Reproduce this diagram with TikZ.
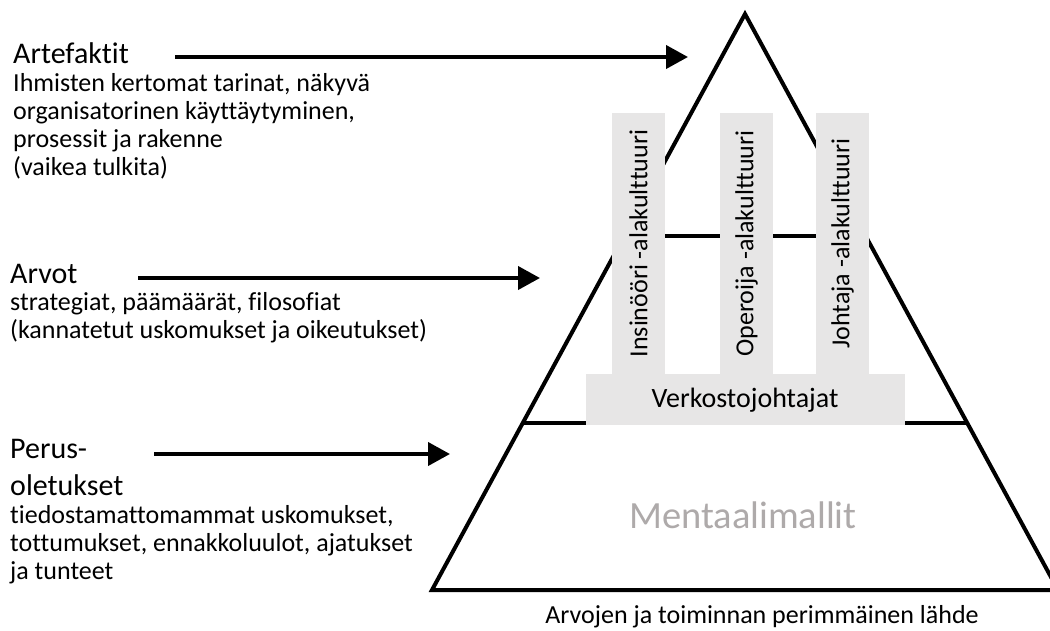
\documentclass[tikz,border=0pt]{standalone}
\usepackage{fontspec}
\setmainfont{Carlito}[RawFeature={-liga;-clig;-dlig;-calt}]
\usetikzlibrary{arrows.meta}
\definecolor{columngrey}{HTML}{E7E6E6}
\definecolor{mentalgrey}{HTML}{AEAAAA}
\begin{document}
\begin{tikzpicture}[x=1pt,y=-1pt,
  heading/.style={anchor=base west, inner sep=0pt, font=\fontsize{30}{36}\selectfont},
  bodyline/.style={anchor=base west, inner sep=0pt, font=\fontsize{26}{31}\selectfont},
  pointer/.style={line width=4pt, -{Triangle[length=22pt,width=23pt]}},
  outline/.style={line width=4pt, line join=miter},
  column/.style={fill=columngrey, draw=none},
  columnlabel/.style={rotate=90, inner sep=0pt, font=\fontsize{26}{31}\selectfont}
]
\useasboundingbox (0,0) rectangle (1050,630);
\clip (0,0) rectangle (1050,630);

% pyramid outline and level lines
\coordinate (apex) at (745,14);
\coordinate (bl) at (432,590);
\coordinate (br) at (1058,590);
\coordinate (u1) at (623,236);
\coordinate (u2) at (867,236);
\coordinate (m1) at (522,423);
\coordinate (m2) at (968,423);
\draw[outline] (apex) -- (bl) -- (br) -- cycle;
\draw[outline] (u1) -- (u2);
\draw[outline] (m1) -- (m2);

% subculture columns on the network-leader base
\fill[column] (612,113) rectangle (665,374);
\fill[column] (720,113) rectangle (773,374);
\fill[column] (816,113) rectangle (869,374);
\fill[column] (586,374) rectangle (905,424.5);
\node[columnlabel] (c1) at (638.5,243.5) {Insinööri -alakulttuuri};
\node[columnlabel] (c2) at (746.5,243.5) {Operoija -alakulttuuri};
\node[columnlabel] (c3) at (842.5,243.5) {Johtaja -alakulttuuri};
\node[anchor=base, inner sep=0pt, font=\fontsize{28}{33}\selectfont] (net) at (745,407) {Verkostojohtajat};

\node[anchor=base, inner sep=0pt, text=mentalgrey, font=\fontsize{38.5}{44}\selectfont] (mental) at (743,528) {Mentaalimallit};
\node[anchor=base, inner sep=0pt, font=\fontsize{26}{31}\selectfont] (source) at (762,623) {Arvojen ja toiminnan perimmäinen lähde};

% artefacts
\node[heading] (art) at (13,63) {Artefaktit};
\node[bodyline] (art1) at (13,91) {Ihmisten kertomat tarinat, näkyvä};
\node[bodyline] (art2) at (13,119) {organisatorinen käyttäytyminen,};
\node[bodyline] (art3) at (13,147) {prosessit ja rakenne};
\node[bodyline] (art4) at (13,175) {(vaikea tulkita)};

% values
\node[heading] (val) at (10,283) {Arvot};
\node[bodyline] (val1) at (10,310) {strategiat, päämäärät, filosofiat};
\node[bodyline] (val2) at (10,338) {(kannatetut uskomukset ja oikeutukset)};

% basic assumptions
\node[heading] (bas) at (10,458) {Perus-};
\node[heading] (bas0) at (10,495) {oletukset};
\node[bodyline] (bas1) at (10,523) {tiedostamattomammat uskomukset,};
\node[bodyline] (bas2) at (10,551) {tottumukset, ennakkoluulot, ajatukset};
\node[bodyline] (bas3) at (10,579) {ja tunteet};

% pointers into the pyramid
\coordinate (p1s) at (175,57);  \coordinate (p1e) at (688,57);
\coordinate (p2s) at (138,278); \coordinate (p2e) at (540,278);
\coordinate (p3s) at (154,454); \coordinate (p3e) at (450,454);
\draw[pointer] (p1s) -- (p1e);
\draw[pointer] (p2s) -- (p2e);
\draw[pointer] (p3s) -- (p3e);
\end{tikzpicture}
\end{document}
